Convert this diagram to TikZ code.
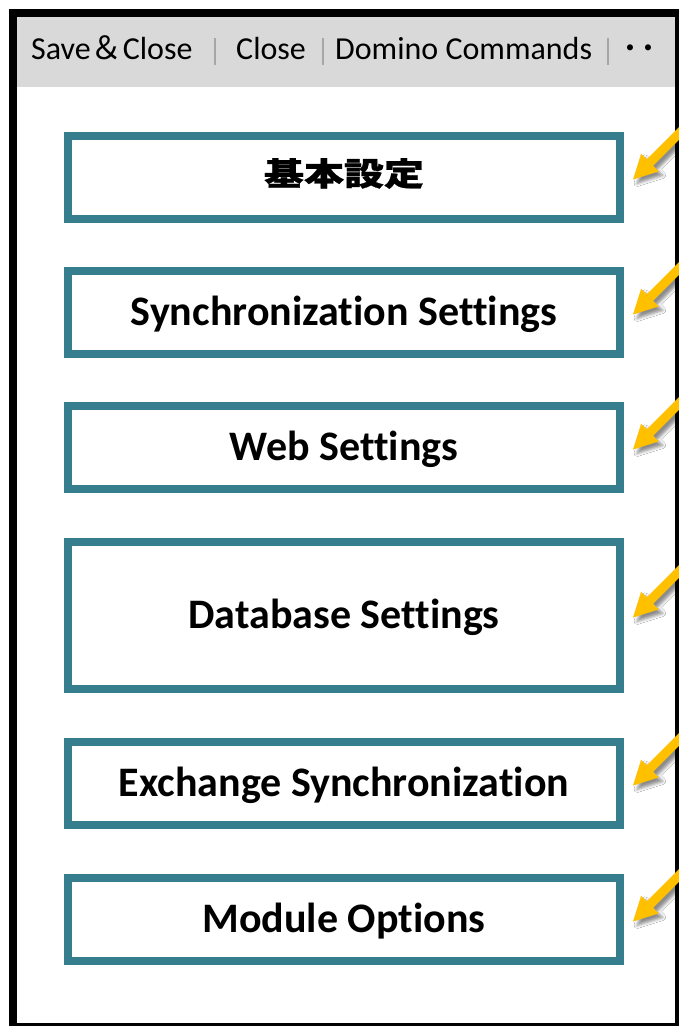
\documentclass[tikz,border=0pt]{standalone}
\usepackage{fontspec}
\setmainfont{Carlito}[Ligatures=NoCommon]
\newfontfamily\cjk{Noto Sans CJK JP}
\newfontfamily\cjkheavy{Noto Sans CJK JP}[FakeBold=0.8]
\usetikzlibrary{calc,shadows.blur}

\definecolor{boxteal}{HTML}{367E8E}
\definecolor{barfill}{HTML}{D9D9D9}
\definecolor{sepgrey}{HTML}{A6A6A6}
\definecolor{arrowgold}{HTML}{FFC000}

\tikzset{
  barlabel/.style={anchor=base west, inner sep=0pt, font=\fontsize{32}{38}\selectfont},
  barsep/.style={draw=sepgrey, line width=2pt},
  setbox/.style={draw=boxteal, line width=8pt, fill=white,
    minimum width=552pt, inner sep=0pt,
    text height=26pt, text depth=0pt,
    font=\bfseries\fontsize{42}{50}\selectfont},
  pointer/.style={fill=arrowgold,
    blur shadow={shadow xshift=4pt, shadow yshift=-4pt,
                 shadow blur radius=3pt, shadow opacity=45}},
}

\begin{document}
\begin{tikzpicture}[x=1pt,y=-1pt]
\useasboundingbox (0,0) rectangle (679,1026);
\clip (0,0) rectangle (679,1026);
\fill[white] (0,0) rectangle (679,1026);

% toolbar strip
\fill[barfill] (17,17) rectangle (675,87);
\node[barlabel] (save) at (31,59) {Save{\cjk ＆}Close};
\draw[barsep] (215,38) -- (215,65);
\node[barlabel] (close) at (236,59) {Close};
\draw[barsep] (323,38) -- (323,65);
\node[barlabel] (domino) at (335,59) {Domino Commands};
\draw[barsep] (608,38) -- (608,65);
\node[barlabel, font=\cjk\fontsize{36}{40}\selectfont] (more) at (621,61) {･･};

% window frame
\draw[line width=8pt] (13,13) rectangle (679,1027);

% settings sections
\node[setbox, minimum height=83pt, text height=25pt, text depth=9pt] (b1) at (344,177.5)
  {\cjkheavy\fontsize{32}{38}\selectfont\scalebox{1.25}[1]{基本設定}};
\node[setbox, minimum height=83pt] (b2) at (344,312.5) {Synchronization Settings};
\node[setbox, minimum height=83pt] (b3) at (344,447.5) {Web Settings};
\node[setbox, minimum height=147pt] (b4) at (344,615.5) {Database Settings};
\node[setbox, minimum height=83pt] (b5) at (344,783.5) {Exchange Synchronization};
\node[setbox, minimum height=83pt] (b6) at (344,919.5) {Module Options};

% pointers to each section
\foreach \b in {b1,b2,b3,b4,b5,b6}{
  \begin{scope}[shift={($(\b.east)+(9,2)$)}]
    \fill[pointer] (0,0) -- (25.81,-8.13) -- (20.15,-13.79) -- (90.86,-84.50)
      -- (84.50,-90.86) -- (13.79,-20.15) -- (8.13,-25.81) -- cycle;
  \end{scope}
}
\end{tikzpicture}
\end{document}
